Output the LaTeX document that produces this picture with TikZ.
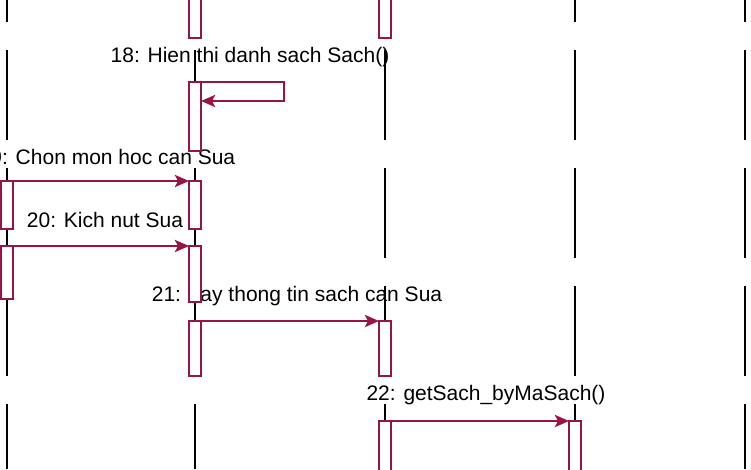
\documentclass[tikz,border=0pt]{standalone}
\usepackage{fontspec}
\setmainfont{Liberation Sans}
\usetikzlibrary{arrows.meta}
\definecolor{rosered}{RGB}{150,20,70}
\begin{document}
\begin{tikzpicture}[x=1pt,y=-1pt,
  lifeline/.style={line width=2.2pt,black,dash pattern=on 90pt off 28pt,dash phase=68pt},
  act/.style={draw=rosered,fill=white,line width=2.2pt,minimum width=12pt,inner sep=0pt,outer sep=0pt},
  msg/.style={draw=rosered,line width=2.8pt,-{Stealth[length=14pt,width=12pt,inset=3pt]}},
  lbl/.style={font=\fontsize{21}{24}\selectfont,inner sep=0pt}]
\useasboundingbox (0,0) rectangle (751,469);
\clip (0,0) rectangle (751,469);
% labels (under lifelines)
\node[lbl] (t18) at (250,57) {18: Hien thi danh sach Sach()};
\node[lbl] (t19) at (107,157) {19: Chon mon hoc can Sua};
\node[lbl] (t20) at (105,220) {20: Kich nut Sua};
\node[lbl] (t21) at (297,296) {21: Lay thong tin sach can Sua};
\node[lbl] (t22) at (486,395) {22: getSach\_byMaSach()};
% lifelines
\coordinate (l1t) at (7,0);   \coordinate (l1b) at (7,469);
\coordinate (l2t) at (195,0); \coordinate (l2b) at (195,469);
\coordinate (l3t) at (385,0); \coordinate (l3b) at (385,469);
\coordinate (l4t) at (575,0); \coordinate (l4b) at (575,469);
\coordinate (l5t) at (745,0); \coordinate (l5b) at (745,469);
\draw[lifeline] (l1t) -- (l1b);
\draw[lifeline] (l2t) -- (l2b);
\draw[lifeline] (l3t) -- (l3b);
\draw[lifeline] (l4t) -- (l4b);
\draw[lifeline] (l5t) -- (l5b);
% activation boxes
\node[act,minimum height=46pt] (A0) at (195,15) {};
\node[act,minimum height=46pt] (B0) at (385,15) {};
\node[act,minimum height=69pt] (A1) at (195,116.5) {};
\node[act,minimum height=48pt] (L1) at (7,205) {};
\node[act,minimum height=48pt] (A2) at (195,205) {};
\node[act,minimum height=53pt] (L2) at (7,272.5) {};
\node[act,minimum height=56pt] (A3) at (195,274) {};
\node[act,minimum height=55pt] (A4) at (195,348.5) {};
\node[act,minimum height=55pt] (B1) at (385,348.5) {};
\node[act,minimum height=60pt] (B2) at (385,451) {};
\node[act,minimum height=60pt] (C1) at (575,451) {};
% messages
\coordinate (s18) at (284,101);
\draw[msg] (A1.north east) -| (s18) -- (A1.east |- s18);
\draw[msg] (L1.north east) -- (A2.north west);
\draw[msg] (L2.north east) -- (A3.north west);
\draw[msg] (A4.north east) -- (B1.north west);
\draw[msg] (B2.north east) -- (C1.north west);
\end{tikzpicture}
\end{document}
